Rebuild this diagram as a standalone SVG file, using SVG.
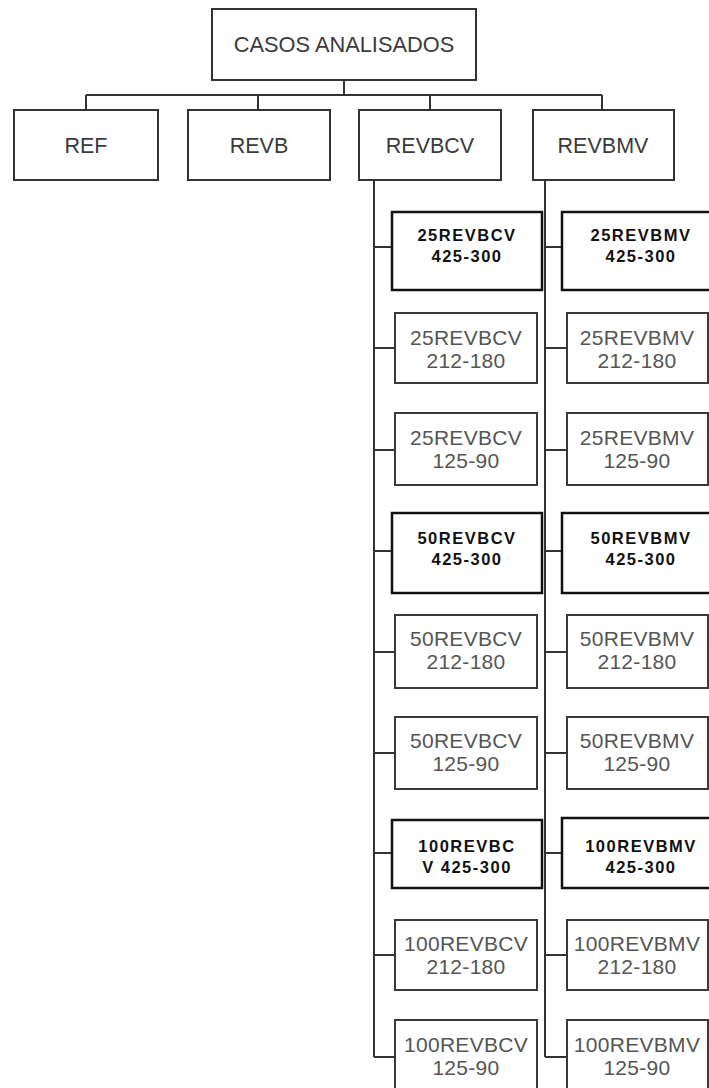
<svg xmlns="http://www.w3.org/2000/svg" width="709" height="1088" viewBox="0 0 709 1088">
<style>
.box{fill:#fff;stroke:#333;stroke-width:2}
.bbox{fill:#fff;stroke:#111;stroke-width:2.5}
.gbox{fill:#fff;stroke:#3a3a3a;stroke-width:2}
.t{font-family:"Liberation Sans",Arial,sans-serif;font-size:21.5px;fill:#3a3a3a;text-anchor:middle}
.g{font-family:"Liberation Sans",Arial,sans-serif;font-size:21px;fill:#555;text-anchor:middle;letter-spacing:0.3px}
.b{font-family:"Liberation Sans",Arial,sans-serif;font-size:16.5px;font-weight:bold;fill:#111;text-anchor:middle;letter-spacing:1.5px}
.c{fill:none;stroke:#333;stroke-width:2}
</style>
<rect width="709" height="1088" fill="#fff"/>
<g id="connectors">
<path class="c" d="M344 80V95M86 95H602M86 95V110M258 95V110M430 95V110M602 95V110"/>
<path class="c" d="M374 181V1057M374 247H392M374 348H395M374 450H395M374 551H392M374 652H395M374 753H395M374 853H392M374 955H395M374 1057H395"/>
<path class="c" d="M545 181V1057M545 247H562M545 348H567M545 450H567M545 551H562M545 652H567M545 753H567M545 853H562M545 955H567M545 1057H567"/>
</g>
<g id="root"><rect class="box" x="212" y="9" width="264" height="71"/><text class="t" x="344" y="52" style="font-size:21.8px">CASOS ANALISADOS</text></g>
<g id="ref"><rect class="box" x="14" y="110" width="144" height="70"/><text class="t" x="86" y="153">REF</text></g>
<g id="revb"><rect class="box" x="188" y="110" width="142" height="70"/><text class="t" x="259" y="153">REVB</text></g>
<g id="revbcv"><rect class="box" x="359" y="110" width="142" height="70"/><text class="t" x="430" y="153">REVBCV</text></g>
<g id="revbmv"><rect class="box" x="533" y="110" width="141" height="70"/><text class="t" x="603" y="153">REVBMV</text></g>

<g id="cv25a"><rect class="bbox" x="392" y="212" width="150" height="78"/><text class="b" x="467" y="241">25REVBCV</text><text class="b" x="467" y="262">425-300</text></g>
<g id="cv25b"><rect class="gbox" x="395" y="313" width="142" height="70"/><text class="g" x="466" y="345">25REVBCV</text><text class="g" x="466" y="368">212-180</text></g>
<g id="cv25c"><rect class="gbox" x="395" y="413" width="142" height="72"/><text class="g" x="466" y="445">25REVBCV</text><text class="g" x="466" y="468">125-90</text></g>
<g id="cv50a"><rect class="bbox" x="392" y="513" width="150" height="80"/><text class="b" x="467" y="544">50REVBCV</text><text class="b" x="467" y="565">425-300</text></g>
<g id="cv50b"><rect class="gbox" x="395" y="615" width="142" height="73"/><text class="g" x="466" y="646">50REVBCV</text><text class="g" x="466" y="669">212-180</text></g>
<g id="cv50c"><rect class="gbox" x="395" y="717" width="142" height="72"/><text class="g" x="466" y="748">50REVBCV</text><text class="g" x="466" y="771">125-90</text></g>
<g id="cv100a"><rect class="bbox" x="392" y="820" width="150" height="68"/><text class="b" x="467" y="852">100REVBC</text><text class="b" x="467" y="873">V 425-300</text></g>
<g id="cv100b"><rect class="gbox" x="395" y="920" width="142" height="70"/><text class="g" x="466" y="951">100REVBCV</text><text class="g" x="466" y="974">212-180</text></g>
<g id="cv100c"><rect class="gbox" x="395" y="1020" width="142" height="72"/><text class="g" x="466" y="1052">100REVBCV</text><text class="g" x="466" y="1075">125-90</text></g>

<g id="mv25a"><rect class="bbox" x="562" y="212" width="160" height="78"/><text class="b" x="641" y="241">25REVBMV</text><text class="b" x="641" y="262">425-300</text></g>
<g id="mv25b"><rect class="gbox" x="567" y="313" width="141" height="70"/><text class="g" x="637" y="345">25REVBMV</text><text class="g" x="637" y="368">212-180</text></g>
<g id="mv25c"><rect class="gbox" x="567" y="413" width="141" height="72"/><text class="g" x="637" y="445">25REVBMV</text><text class="g" x="637" y="468">125-90</text></g>
<g id="mv50a"><rect class="bbox" x="562" y="513" width="160" height="80"/><text class="b" x="641" y="544">50REVBMV</text><text class="b" x="641" y="565">425-300</text></g>
<g id="mv50b"><rect class="gbox" x="567" y="615" width="141" height="73"/><text class="g" x="637" y="646">50REVBMV</text><text class="g" x="637" y="669">212-180</text></g>
<g id="mv50c"><rect class="gbox" x="567" y="717" width="141" height="72"/><text class="g" x="637" y="748">50REVBMV</text><text class="g" x="637" y="771">125-90</text></g>
<g id="mv100a"><rect class="bbox" x="562" y="818" width="160" height="70"/><text class="b" x="641" y="852">100REVBMV</text><text class="b" x="641" y="873">425-300</text></g>
<g id="mv100b"><rect class="gbox" x="567" y="920" width="141" height="70"/><text class="g" x="637" y="951">100REVBMV</text><text class="g" x="637" y="974">212-180</text></g>
<g id="mv100c"><rect class="gbox" x="567" y="1020" width="141" height="72"/><text class="g" x="637" y="1052">100REVBMV</text><text class="g" x="637" y="1075">125-90</text></g>
</svg>
